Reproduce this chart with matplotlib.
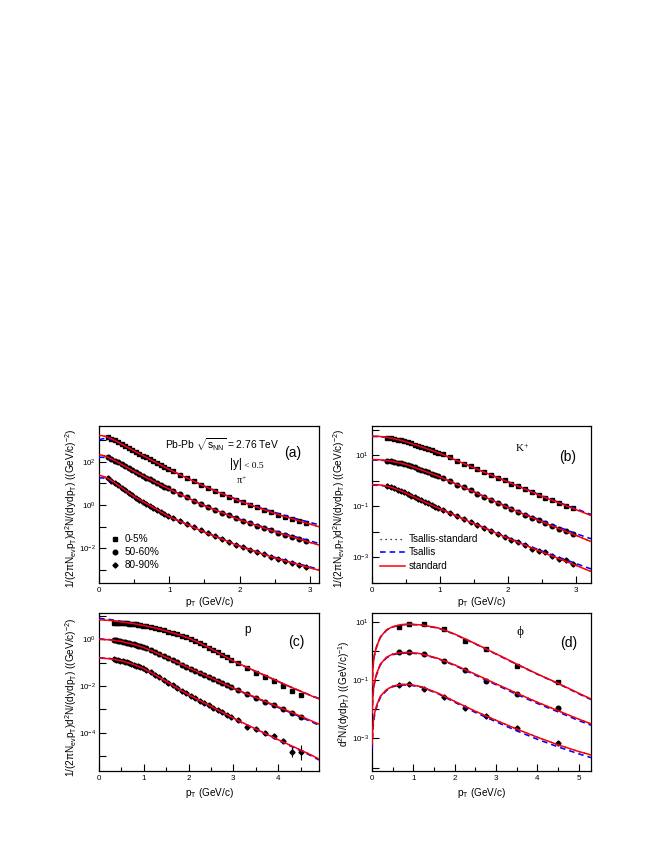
import numpy as np
import matplotlib
matplotlib.use('Agg')
import matplotlib.pyplot as plt
from matplotlib.ticker import FixedLocator, FuncFormatter, MultipleLocator, NullLocator

plt.rcParams['font.family'] = ['Liberation Sans', 'DejaVu Sans']
plt.rcParams['mathtext.fontset'] = 'custom'
plt.rcParams['mathtext.rm'] = 'Liberation Sans'
plt.rcParams['mathtext.it'] = 'Liberation Sans:italic'
plt.rcParams['mathtext.bf'] = 'Liberation Sans:bold'
plt.rcParams['mathtext.sf'] = 'Liberation Sans'
plt.rcParams['mathtext.default'] = 'regular'

# ---------------- data (log10 of the plotted values) ----------------
centralities = ['0-5%', '50-60%', '80-90%']
curve_names = ['Tsallis-standard', 'Tsallis', 'standard']

# (a) pi+
pi_pt = [0.125, 0.175, 0.225, 0.275, 0.325, 0.375, 0.425, 0.475, 0.525, 0.575, 0.625, 0.675,
         0.725, 0.775, 0.825, 0.875, 0.925, 0.975, 1.05, 1.15, 1.25, 1.35, 1.45, 1.55, 1.65,
         1.75, 1.85, 1.95, 2.05, 2.15, 2.25, 2.35, 2.45, 2.55, 2.65, 2.75, 2.85, 2.95]
pi_top_log = [3.12, 3.05, 2.98, 2.89, 2.80, 2.71, 2.63, 2.54, 2.45, 2.37, 2.28, 2.19, 2.11, 2.02,
              1.94, 1.85, 1.76, 1.68, 1.56, 1.40, 1.25, 1.09, 0.94, 0.79, 0.66, 0.52, 0.39, 0.25,
              0.13, 0.01, -0.10, -0.22, -0.33, -0.44, -0.54, -0.63, -0.73, -0.83]
pi_mid_log = [2.20, 2.13, 2.05, 1.96, 1.87, 1.78, 1.69, 1.60, 1.51, 1.43, 1.34, 1.26, 1.18, 1.10,
              1.01, 0.93, 0.85, 0.77, 0.65, 0.50, 0.35, 0.20, 0.05, -0.09, -0.22, -0.35, -0.48,
              -0.61, -0.73, -0.84, -0.95, -1.06, -1.17, -1.27, -1.37, -1.47, -1.57, -1.67]
pi_bot_log = [1.23, 1.13, 1.02, 0.91, 0.79, 0.68, 0.56, 0.45, 0.34, 0.25, 0.16, 0.07, -0.03, -0.12,
              -0.21, -0.30, -0.40, -0.49, -0.61, -0.75, -0.89, -1.03, -1.17, -1.31, -1.44, -1.57,
              -1.70, -1.83, -1.95, -2.06, -2.17, -2.27, -2.38, -2.48, -2.57, -2.66, -2.75, -2.84]
pi_fit_pt = [0, 0.05, 0.1, 0.2, 0.3, 0.5, 0.75, 1.0, 1.25, 1.5, 1.75, 2.0, 2.25, 2.5, 2.75, 3.0, 3.15]
pi_top_std = [3.21, 3.19, 3.15, 3.02, 2.845, 2.495, 2.065, 1.635, 1.248, 0.86, 0.523, 0.185, -0.103, -0.39, -0.633, -0.875, -1.02]
pi_top_ts = [3.0, 3.05, 3.07, 3.0, 2.84, 2.49, 2.06, 1.63, 1.25, 0.87, 0.54, 0.21, -0.07, -0.34, -0.58, -0.80, -0.93]
pi_mid_std = [2.32, 2.29, 2.24, 2.09, 1.91, 1.55, 1.14, 0.73, 0.35, -0.03, -0.35, -0.68, -0.95, -1.23, -1.47, -1.72, -1.86]
pi_mid_ts = [2.2, 2.2, 2.18, 2.07, 1.9, 1.55, 1.13, 0.72, 0.35, -0.02, -0.33, -0.65, -0.92, -1.19, -1.42, -1.65, -1.79]
pi_bot_std = [1.38, 1.33, 1.28, 1.08, 0.85, 0.39, -0.07, -0.54, -0.89, -1.25, -1.57, -1.90, -2.17, -2.44, -2.66, -2.89, -3.02]
pi_bot_ts = [1.25, 1.25, 1.22, 1.06, 0.84, 0.38, -0.08, -0.54, -0.89, -1.24, -1.56, -1.88, -2.15, -2.41, -2.63, -2.85, -2.97]

# (b) K+
k_pt = [0.225, 0.275, 0.325, 0.375, 0.425, 0.475, 0.525, 0.575, 0.625, 0.675, 0.725, 0.775, 0.825,
        0.875, 0.925, 0.975, 1.05, 1.15, 1.25, 1.35, 1.45, 1.55, 1.65, 1.75, 1.85, 1.95, 2.05,
        2.15, 2.25, 2.35, 2.45, 2.55, 2.65, 2.75, 2.85, 2.95]
k_top_log = [1.69, 1.67, 1.64, 1.61, 1.58, 1.54, 1.50, 1.46, 1.41, 1.37, 1.33, 1.28, 1.24, 1.19, 1.14,
             1.09, 1.03, 0.91, 0.79, 0.67, 0.56, 0.45, 0.34, 0.23, 0.12, 0.01, -0.11, -0.22, -0.33,
             -0.44, -0.55, -0.66, -0.77, -0.87, -0.97, -1.08]
k_mid_log = [0.79, 0.77, 0.74, 0.71, 0.68, 0.65, 0.61, 0.57, 0.52, 0.47, 0.42, 0.38, 0.33, 0.28, 0.23,
             0.18, 0.09, -0.03, -0.15, -0.26, -0.38, -0.50, -0.62, -0.75, -0.87, -0.99, -1.11,
             -1.22, -1.33, -1.44, -1.55, -1.66, -1.77, -1.88, -1.98, -2.09]
k_bot_log = [-0.22, -0.25, -0.30, -0.35, -0.40, -0.45, -0.51, -0.58, -0.64, -0.70, -0.77, -0.83,
             -0.89, -0.95, -1.01, -1.07, -1.16, -1.27, -1.39, -1.51, -1.60, -1.74, -1.85, -1.97,
             -2.08, -2.19, -2.30, -2.41, -2.52, -2.66, -2.74, -2.80, -2.95, -3.05, -3.12, -3.26]
k_fit_pt = [0, 0.1, 0.2, 0.3, 0.4, 0.5, 0.75, 1.0, 1.25, 1.5, 1.75, 2.0, 2.25, 2.5, 2.75, 3.0, 3.22]
k_top_std = [1.745, 1.735, 1.705, 1.655, 1.595, 1.52, 1.305, 1.07, 0.785, 0.5, 0.225, -0.05, -0.33, -0.61, -0.87, -1.13, -1.36]
k_top_ts = [1.73, 1.725, 1.70, 1.65, 1.59, 1.515, 1.30, 1.065, 0.785, 0.5, 0.23, -0.04, -0.31, -0.59, -0.85, -1.10, -1.32]
k_mid_std = [0.83, 0.82, 0.795, 0.755, 0.70, 0.635, 0.40, 0.15, -0.145, -0.44, -0.745, -1.05, -1.33, -1.61, -1.875, -2.14, -2.38]
k_mid_ts = [0.81, 0.805, 0.785, 0.75, 0.695, 0.63, 0.395, 0.145, -0.145, -0.435, -0.735, -1.03, -1.30, -1.57, -1.82, -2.07, -2.27]
k_bot_std = [-0.15, -0.16, -0.20, -0.27, -0.37, -0.48, -0.80, -1.10, -1.39, -1.68, -1.965, -2.25, -2.52, -2.79, -3.05, -3.31, -3.55]
k_bot_ts = [-0.17, -0.175, -0.21, -0.275, -0.37, -0.48, -0.80, -1.10, -1.385, -1.67, -1.95, -2.225, -2.49, -2.75, -3.0, -3.24, -3.45]

# (c) p
p_pt = [0.325, 0.375, 0.425, 0.475, 0.525, 0.575, 0.625, 0.675, 0.725, 0.775, 0.825, 0.875, 0.925,
        0.975, 1.05, 1.15, 1.25, 1.35, 1.45, 1.55, 1.65, 1.75, 1.85, 1.95, 2.05, 2.15, 2.25, 2.35,
        2.45, 2.55, 2.65, 2.75, 2.85, 2.95, 3.1, 3.3, 3.5, 3.7, 3.9, 4.1, 4.3, 4.5]
p_top_log = [0.71, 0.72, 0.72, 0.72, 0.71, 0.70, 0.69, 0.68, 0.67, 0.655, 0.64, 0.625, 0.605, 0.59,
             0.57, 0.53, 0.49, 0.44, 0.39, 0.335, 0.28, 0.22, 0.155, 0.09, 0.02, -0.07, -0.16,
             -0.255, -0.35, -0.455, -0.56, -0.67, -0.775, -0.88, -1.02, -1.24, -1.42, -1.63,
             -1.80, -2.00, -2.20, -2.40]
p_mid_log = [-0.035, -0.045, -0.06, -0.08, -0.10, -0.12, -0.145, -0.17, -0.19, -0.215, -0.245,
             -0.275, -0.305, -0.335, -0.39, -0.47, -0.55, -0.64, -0.73, -0.81, -0.90, -0.99,
             -1.08, -1.165, -1.255, -1.34, -1.43, -1.52, -1.605, -1.695, -1.78, -1.87, -1.96,
             -2.045, -2.17, -2.33, -2.50, -2.68, -2.83, -3.00, -3.16, -3.33]
p_bot_log = [-0.85, -0.87, -0.89, -0.91, -0.935, -0.96, -0.99, -1.02, -1.05, -1.08, -1.12, -1.155,
             -1.19, -1.23, -1.30, -1.41, -1.52, -1.63, -1.74, -1.86, -1.97, -2.09, -2.20, -2.31,
             -2.42, -2.52, -2.62, -2.72, -2.82, -2.92, -3.02, -3.12, -3.22, -3.32, -3.47, -3.75,
             -3.86, -4.02, -4.16, -4.35, -4.81, -4.84]
p_bot_err = [0.05] * 40 + [0.21, 0.32]
p_fit_pt = [0, 0.25, 0.5, 0.75, 1.0, 1.25, 1.5, 1.75, 2.0, 2.25, 2.5, 2.75, 3.0, 3.25, 3.5, 3.75,
            4.0, 4.25, 4.5, 4.75, 4.91]
p_top_std = [0.84, 0.81, 0.75, 0.68, 0.59, 0.49, 0.36, 0.22, 0.06, -0.16, -0.40, -0.67, -0.93, -1.15, -1.37, -1.58, -1.80, -2.02, -2.22, -2.43, -2.55]
p_top_ts = [0.90, 0.85, 0.77, 0.69, 0.59, 0.49, 0.36, 0.21, 0.05, -0.17, -0.41, -0.68, -0.94, -1.16, -1.38, -1.59, -1.81, -2.02, -2.22, -2.42, -2.53]
p_mid_std = [0.0, -0.02, -0.09, -0.2, -0.35, -0.55, -0.77, -0.99, -1.21, -1.43, -1.65, -1.87, -2.09, -2.29, -2.49, -2.69, -2.89, -3.09, -3.29, -3.5, -3.63]
p_mid_ts = [0.02, -0.01, -0.085, -0.2, -0.355, -0.56, -0.78, -1.0, -1.22, -1.44, -1.66, -1.88, -2.10, -2.31, -2.51, -2.71, -2.92, -3.12, -3.33, -3.54, -3.68]
p_bot_std = [-0.8, -0.83, -0.92, -1.06, -1.25, -1.52, -1.80, -2.09, -2.37, -2.62, -2.87, -3.12, -3.37, -3.61, -3.84, -4.07, -4.3, -4.52, -4.74, -4.97, -5.13]
p_bot_ts = [-0.79, -0.82, -0.92, -1.07, -1.27, -1.54, -1.82, -2.11, -2.39, -2.64, -2.89, -3.14, -3.39, -3.63, -3.86, -4.09, -4.32, -4.55, -4.77, -5.0, -5.17]

# (d) phi
phi_pt = [0.65, 0.9, 1.25, 1.75, 2.25, 2.75, 3.5, 4.5]
phi_top_log = [0.81, 0.91, 0.91, 0.74, 0.35, 0.065, -0.51, -1.05]
phi_mid_log = [-0.05, -0.05, -0.12, -0.34, -0.65, -1.03, -1.49, -1.97]
phi_bot_log = [-1.17, -1.13, -1.32, -1.57, -1.95, -2.23, -2.65, -3.17]
phi_fit_pt = [0.005, 0.02, 0.05, 0.1, 0.2, 0.35, 0.5, 0.7, 0.9, 1.2, 1.6, 2.0, 2.5, 3.0, 3.5, 4.0, 4.5, 5.0, 5.3]
phi_top_std = [-1.18, -0.58, -0.19, 0.11, 0.47, 0.72, 0.83, 0.90, 0.92, 0.89, 0.79, 0.58, 0.25, -0.10, -0.45, -0.79, -1.11, -1.45, -1.65]
phi_top_ts = [-1.25, -0.63, -0.22, 0.09, 0.46, 0.71, 0.82, 0.89, 0.91, 0.88, 0.78, 0.57, 0.24, -0.11, -0.46, -0.80, -1.12, -1.47, -1.67]
phi_mid_std = [-2.12, -1.52, -1.13, -0.83, -0.46, -0.22, -0.11, -0.06, -0.05, -0.1, -0.26, -0.48, -0.8, -1.13, -1.45, -1.76, -2.05, -2.34, -2.5]
phi_mid_ts = [-2.2, -1.58, -1.18, -0.86, -0.48, -0.24, -0.13, -0.08, -0.07, -0.11, -0.27, -0.5, -0.83, -1.16, -1.49, -1.80, -2.09, -2.39, -2.55]
phi_bot_std = [-3.2, -2.6, -2.21, -1.92, -1.56, -1.33, -1.21, -1.15, -1.15, -1.23, -1.45, -1.73, -2.07, -2.38, -2.68, -2.96, -3.22, -3.45, -3.57]
phi_bot_ts = [-3.35, -2.72, -2.3, -1.98, -1.6, -1.36, -1.23, -1.17, -1.17, -1.25, -1.47, -1.76, -2.11, -2.43, -2.74, -3.03, -3.29, -3.53, -3.66]

diamond_err = 0.06

# ---------------- figure ----------------
W, H = 654, 846
fig = plt.figure(figsize=(W / 100, H / 100), dpi=100)
fig.patch.set_facecolor('white')

boxes = {'a': (99, 319, 426, 583), 'b': (372, 591, 426, 583),
         'c': (99, 319, 613, 771), 'd': (372, 591, 613, 771)}


def add_ax(key):
    l, r, t, b = boxes[key]
    return fig.add_axes([l / W, 1 - b / H, (r - l) / W, (b - t) / H])


def fx(key, x):
    l, r, t, b = boxes[key]
    return (x - l) / (r - l)


def fy(key, y):
    l, r, t, b = boxes[key]
    return (b - y) / (b - t)


def P(lst):
    return 10.0 ** np.asarray(lst, dtype=float)


TICK_FS = 5.8
LAB_FS = 7.2


def setup(ax, key, xmax, ylo, yhi, labeled, xlabel_y, ylabel, ylabel_x, ylabel_yc):
    ax.set_yscale('log')
    ax.set_xlim(0, xmax)
    ax.set_ylim(10 ** ylo, 10 ** yhi)
    decs = list(range(int(np.ceil(ylo)), int(np.floor(yhi)) + 1))
    ax.yaxis.set_major_locator(FixedLocator([10.0 ** e for e in decs]))
    ax.yaxis.set_minor_locator(NullLocator())

    def fmt(v, p):
        e = int(round(np.log10(v)))
        return (r'$10^{%d}$' % e) if e in labeled else ''
    ax.yaxis.set_major_formatter(FuncFormatter(fmt))
    ax.xaxis.set_major_locator(MultipleLocator(1))
    ax.xaxis.set_minor_locator(MultipleLocator(0.5))
    ax.tick_params(which='both', direction='in', top=False, right=False,
                   labelsize=TICK_FS, width=0.8)
    ax.tick_params(which='major', length=5)
    ax.tick_params(which='minor', length=3)
    ax.tick_params(axis='x', pad=3)
    ax.tick_params(axis='y', pad=2)
    for s in ax.spines.values():
        s.set_linewidth(0.9)
    ax.set_xlabel(r'p$_{T}$ (GeV/c)', fontsize=LAB_FS)
    ax.xaxis.label.set_va('center')
    ax.xaxis.set_label_coords(0.5, fy(key, xlabel_y))
    ax.set_ylabel(ylabel, fontsize=LAB_FS)
    ax.yaxis.label.set_va('center')
    ax.yaxis.set_label_coords(fx(key, ylabel_x), fy(key, ylabel_yc))


def series(ax, pt, logv, marker, ms, err=None):
    y = P(logv)
    if err is None:
        ax.plot(pt, y, ls='none', marker=marker, ms=ms, color='k', mec='k', zorder=3)
    else:
        e = np.asarray(err, dtype=float) * np.ones(len(y))
        lo = y - 10.0 ** (np.asarray(logv) - e)
        hi = 10.0 ** (np.asarray(logv) + e) - y
        ax.errorbar(pt, y, yerr=[lo, hi], ls='none', marker=marker, ms=ms, color='k',
                    mec='k', elinewidth=0.8, capsize=0, zorder=3)


def fits(ax, pt, std, ts):
    ax.plot(pt, P(std), color='k', ls=(0, (1, 3)), lw=0.9, zorder=4)
    ax.plot(pt, P(ts), color='#0000ff', ls=(0, (3.5, 2.5)), lw=1.15, zorder=4.5)
    ax.plot(pt, P(std), color='#ff0000', ls='-', lw=1.1, zorder=5)


ylab2 = r'1/(2$\pi$N$_{ev}$p$_{T}$)d$^{2}$N/(dydp$_{T}$) ((GeV/c)$^{-2}$)'
ylab1 = r'd$^{2}$N/(dydp$_{T}$) ((GeV/c)$^{-1}$)'

MS_SQ, MS_CI, MS_DI = 2.9, 3.3, 2.6

# ---- (a) ----
axA = add_ax('a')
setup(axA, 'a', 3.13, -3.59, 3.64, {-2, 0, 2}, 602, ylab2, 71, 508)
series(axA, pi_pt, pi_top_log, 's', MS_SQ)
series(axA, pi_pt, pi_mid_log, 'o', MS_CI)
series(axA, pi_pt, pi_bot_log, 'D', MS_DI, diamond_err)
for s_, t_ in [(pi_top_std, pi_top_ts), (pi_mid_std, pi_mid_ts), (pi_bot_std, pi_bot_ts)]:
    fits(axA, pi_fit_pt, s_, t_)
axA.text(fx('a', 222), fy('a', 445), r'Pb-Pb $\sqrt{\mathrm{s}_{\mathrm{NN}}}$ = 2.76 TeV',
         transform=axA.transAxes, ha='center', va='center', fontsize=7.4)
axA.text(fx('a', 293), fy('a', 453), '(a)', transform=axA.transAxes, ha='center', va='center',
         fontsize=10)
axA.text(fx('a', 236), fy('a', 464), '|y|', transform=axA.transAxes, ha='center', va='center',
         fontsize=8.5)
axA.text(fx('a', 254), fy('a', 466), '< 0.5', transform=axA.transAxes, ha='center', va='center',
         fontsize=6.8, family='Liberation Serif')
axA.text(fx('a', 242), fy('a', 480), r'$\pi^{+}$', transform=axA.transAxes, ha='center',
         va='center', fontsize=7.5, family='Liberation Serif', math_fontfamily='dejavuserif')
for (mk, ms), lab, yy in zip([('s', MS_SQ), ('o', MS_CI), ('D', MS_DI)], centralities,
                             [539, 552, 564.5]):
    axA.plot([fx('a', 115)], [fy('a', yy)], marker=mk, ms=ms, color='k', ls='none',
             transform=axA.transAxes, clip_on=False)
    axA.text(fx('a', 125), fy('a', yy), lab, transform=axA.transAxes, ha='left',
             va='center', fontsize=7.2)

# ---- (b) ----
axB = add_ax('b')
setup(axB, 'b', 3.22, -4.0, 2.14, {1, -1, -3}, 602, ylab2, 339, 508)
series(axB, k_pt, k_top_log, 's', MS_SQ)
series(axB, k_pt, k_mid_log, 'o', MS_CI)
series(axB, k_pt, k_bot_log, 'D', MS_DI, diamond_err)
for s_, t_ in [(k_top_std, k_top_ts), (k_mid_std, k_mid_ts), (k_bot_std, k_bot_ts)]:
    fits(axB, k_fit_pt, s_, t_)
axB.text(fx('b', 522), fy('b', 448), r'K$^{+}$', transform=axB.transAxes, ha='center',
         va='center', fontsize=8, family='Liberation Serif')
axB.text(fx('b', 568), fy('b', 457), '(b)', transform=axB.transAxes, ha='center', va='center',
         fontsize=10)
leg_styles = [dict(color='k', ls=(0, (1, 3)), lw=0.9),
              dict(color='#0000ff', ls=(0, (3.5, 2.5)), lw=1.15),
              dict(color='#ff0000', ls='-', lw=1.1)]
for st, lab, yy in zip(leg_styles, curve_names, [539, 552.3, 565.7]):
    axB.plot([fx('b', 380), fx('b', 405)], [fy('b', yy)] * 2, transform=axB.transAxes,
             clip_on=False, **st)
    axB.text(fx('b', 409), fy('b', yy), lab, transform=axB.transAxes, ha='left', va='center',
             fontsize=7.2)

# ---- (c) ----
axC = add_ax('c')
setup(axC, 'c', 4.91, -5.64, 1.13, {0, -2, -4}, 793, ylab2, 71, 697)
series(axC, p_pt, p_top_log, 's', MS_SQ)
series(axC, p_pt, p_mid_log, 'o', MS_CI)
series(axC, p_pt, p_bot_log, 'D', MS_DI, p_bot_err)
for s_, t_ in [(p_top_std, p_top_ts), (p_mid_std, p_mid_ts), (p_bot_std, p_bot_ts)]:
    fits(axC, p_fit_pt, s_, t_)
axC.text(fx('c', 248), fy('c', 630), 'p', transform=axC.transAxes, ha='center', va='center',
         fontsize=8.5)
axC.text(fx('c', 296.5), fy('c', 642), '(c)', transform=axC.transAxes, ha='center',
         va='center', fontsize=10)

# ---- (d) ----
axD = add_ax('d')
setup(axD, 'd', 5.3, -4.12, 1.3, {1, -1, -3}, 793, ylab1, 344, 694)
series(axD, phi_pt, phi_top_log, 's', MS_SQ, 0.03)
series(axD, phi_pt, phi_mid_log, 'o', MS_CI, 0.03)
series(axD, phi_pt, phi_bot_log, 'D', MS_DI, diamond_err)
for s_, t_ in [(phi_top_std, phi_top_ts), (phi_mid_std, phi_mid_ts), (phi_bot_std, phi_bot_ts)]:
    fits(axD, phi_fit_pt, s_, t_)
axD.text(fx('d', 520), fy('d', 632), '\u03d5', transform=axD.transAxes, ha='center',
         va='center', fontsize=9.5, family=['Liberation Serif', 'DejaVu Serif'])
axD.text(fx('d', 568.5), fy('d', 643), '(d)', transform=axD.transAxes, ha='center',
         va='center', fontsize=10)

fig.savefig('out.png', dpi=100, facecolor='white')
